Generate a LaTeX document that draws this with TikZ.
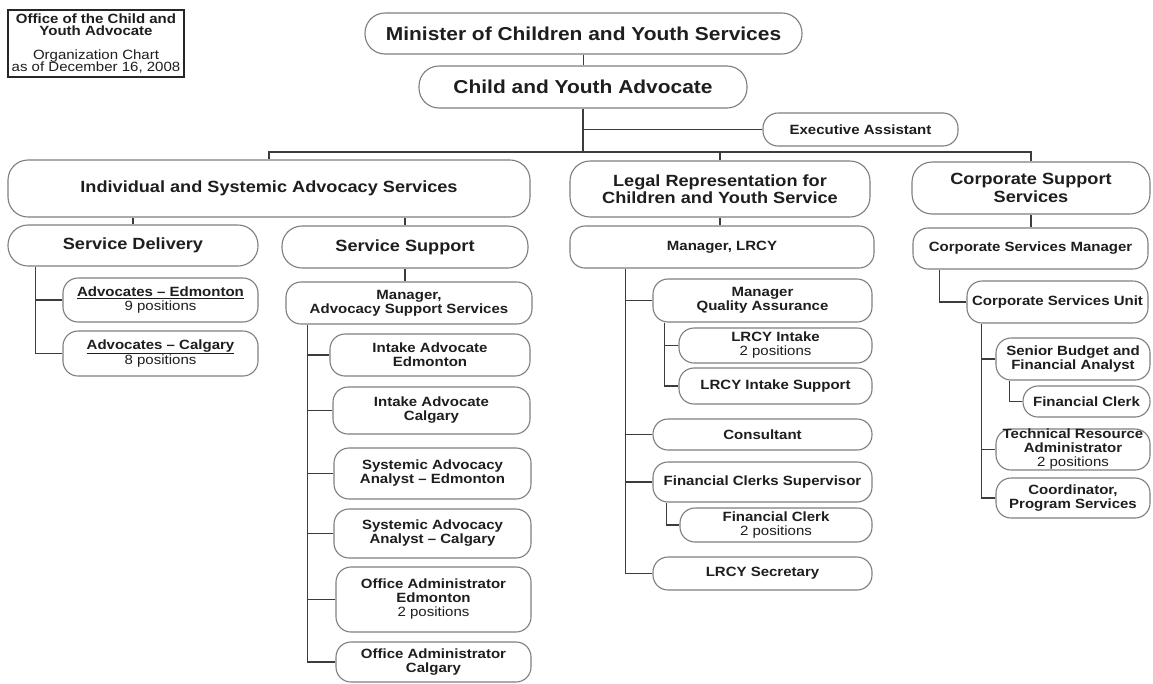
\documentclass[tikz,border=0pt]{standalone}
\usepackage{fontspec}
\setmainfont{Liberation Sans}[FakeStretch=1.12]
\definecolor{boxc}{HTML}{7E7E7E}
\definecolor{linec}{HTML}{3C3C3C}
\definecolor{txt}{HTML}{1E1E1E}
\begin{document}
\begin{tikzpicture}[x=1pt,y=-1pt,
  bx/.style={draw=boxc, line width=1.1pt, rounded corners=15pt, inner sep=0pt, align=center, text=txt},
  bxL/.style={bx, rounded corners=20pt},
  fa/.style={font=\bfseries\fontsize{18.7}{19.5}\selectfont},
  fb/.style={font=\bfseries\fontsize{16.2}{17.5}\selectfont},
  fc/.style={font=\bfseries\fontsize{13.4}{14}\selectfont},
  conn/.style={draw=linec, line width=1.4pt},
  infobox/.style={draw=black!85, line width=1.3pt, inner sep=0pt, align=center, text=txt, font=\fontsize{13.4}{12.5}\selectfont}]
\useasboundingbox (0,0) rectangle (1153,683);
\fill[white] (0,0) rectangle (1153,683);

% title box
\node[infobox, minimum width=176pt, minimum height=67pt] (info) at (96,43.5)
  {\textbf{Office of the Child and}\\\textbf{Youth Advocate}\\[11pt]Organization Chart\\as of December 16, 2008};

% top levels
\node[bxL, fa, minimum width=437pt, minimum height=41pt] (min) at (583.5,33.5) {Minister of Children and Youth Services};
\node[bxL, fa, minimum width=328pt, minimum height=42pt] (adv) at (583,87) {Child and Youth Advocate};
\node[bx, fc, minimum width=195pt, minimum height=33pt] (ea) at (860.5,129.5) {Executive Assistant};

\node[bxL, fb, minimum width=522pt, minimum height=57pt] (isas) at (269,188.5) {Individual and Systemic Advocacy Services};
\node[bxL, fb, minimum width=300pt, minimum height=56pt] (lrcy) at (720,189) {Legal Representation for\\Children and Youth Service};
\node[bxL, fb, minimum width=238pt, minimum height=52pt] (css) at (1031,188) {Corporate Support\\Services};

% left branch
\node[bxL, fb, minimum width=250pt, minimum height=41pt] (sd) at (133,245.5) {Service Delivery};
\node[bxL, fb, minimum width=246pt, minimum height=42pt] (ss) at (405,247) {Service Support};
\node[bx, fc, minimum width=195pt, minimum height=44pt] (adve) at (160.5,300) {\underline{Advocates -- Edmonton}\\{\mdseries 9 positions}};
\node[bx, fc, minimum width=195pt, minimum height=45pt] (advc) at (160.5,353.5) {\underline{Advocates -- Calgary}\\{\mdseries 8 positions}};

\node[bx, fc, minimum width=246pt, minimum height=42pt] (mass) at (409,303) {Manager,\\Advocacy Support Services};
\node[bx, fc, minimum width=200pt, minimum height=42pt] (iae) at (430,355) {Intake Advocate\\Edmonton};
\node[bx, fc, minimum width=197pt, minimum height=47pt] (iac) at (431.5,410.5) {Intake Advocate\\Calgary};
\node[bx, fc, minimum width=197pt, minimum height=51pt] (saae) at (432.5,473.5) {Systemic Advocacy\\Analyst -- Edmonton};
\node[bx, fc, minimum width=197pt, minimum height=49pt] (saac) at (432.5,533.5) {Systemic Advocacy\\Analyst -- Calgary};
\node[bx, fc, minimum width=195pt, minimum height=65pt] (oae) at (433.5,599.5) {Office Administrator\\Edmonton\\{\mdseries 2 positions}};
\node[bx, fc, minimum width=195pt, minimum height=40pt] (oac) at (433.5,662) {Office Administrator\\Calgary};

% middle branch
\node[bx, fc, minimum width=304pt, minimum height=42pt] (mlrcy) at (722,247) {Manager, LRCY};
\node[bx, fc, minimum width=219pt, minimum height=43pt] (mqa) at (762.5,300.5) {Manager\\Quality Assurance};
\node[bx, fc, minimum width=193pt, minimum height=35pt] (lint) at (775.5,345.5) {LRCY Intake\\{\mdseries 2 positions}};
\node[bx, fc, minimum width=193pt, minimum height=36pt] (lis) at (775.5,386) {LRCY Intake Support};
\node[bx, fc, minimum width=219pt, minimum height=31pt] (cons) at (762.5,434.5) {Consultant};
\node[bx, fc, minimum width=219pt, minimum height=40pt] (fcs) at (762.5,482) {Financial Clerks Supervisor};
\node[bx, fc, minimum width=192pt, minimum height=34pt] (fca) at (776,525) {Financial Clerk\\{\mdseries 2 positions}};
\node[bx, fc, minimum width=219pt, minimum height=33pt] (lsec) at (762.5,573.5) {LRCY Secretary};

% right branch
\node[bx, fc, minimum width=235pt, minimum height=41pt] (csm) at (1030.5,248.5) {Corporate Services Manager};
\node[bx, fc, minimum width=181pt, minimum height=42pt] (csu) at (1057.5,302) {Corporate Services Unit};
\node[bx, fc, minimum width=154pt, minimum height=42pt] (sbfa) at (1073,359) {Senior Budget and\\Financial Analyst};
\node[bx, fc, minimum width=127pt, minimum height=31pt] (fcb) at (1086.5,401.5) {Financial Clerk};
\node[bx, fc, minimum width=154pt, minimum height=41pt] (tra) at (1073,449.5) {Technical Resource\\Administrator\\{\mdseries 2 positions}};
\node[bx, fc, minimum width=154pt, minimum height=40pt] (coord) at (1073,498) {Coordinator,\\Program Services};

% connectors: top
\coordinate (bus) at (583,152);
\draw[conn] (min.south) -- (min.south |- adv.north);
\draw[conn] (adv.south) -- (bus);
\draw[conn] (adv.south |- ea.west) -- (ea.west);
\draw[conn] (isas.north) |- (bus) -| (css.north);
\draw[conn] (lrcy.north) -- (lrcy.north |- bus);

% left
\draw[conn] (sd.north) -- (sd.north |- isas.south);
\draw[conn] (ss.north) -- (ss.north |- isas.south);
\coordinate (sdt) at ([xshift=28pt]sd.south west);
\draw[conn] (sdt) |- (advc.west);
\draw[conn] (sdt |- adve.west) -- (adve.west);
\draw[conn] (ss.south) -- (ss.south |- mass.north);
\coordinate (mat) at ([xshift=22pt]mass.south west);
\draw[conn] (mat) |- (oac.west);
\draw[conn] (mat |- iae.west) -- (iae.west);
\draw[conn] (mat |- iac.west) -- (iac.west);
\draw[conn] (mat |- saae.west) -- (saae.west);
\draw[conn] (mat |- saac.west) -- (saac.west);
\draw[conn] (mat |- oae.west) -- (oae.west);

% middle
\draw[conn] (lrcy.south) -- (lrcy.south |- mlrcy.north);
\coordinate (mlt) at ([xshift=56pt]mlrcy.south west);
\draw[conn] (mlt) |- (lsec.west);
\draw[conn] (mlt |- mqa.west) -- (mqa.west);
\draw[conn] (mlt |- cons.west) -- (cons.west);
\draw[conn] (mlt |- fcs.west) -- (fcs.west);
\coordinate (mqt) at ([xshift=12pt]mqa.south west);
\draw[conn] (mqt) |- (lis.west);
\draw[conn] (mqt |- lint.west) -- (lint.west);
\coordinate (fct) at ([xshift=14pt]fcs.south west);
\draw[conn] (fct) |- (fca.west);

% right
\draw[conn] (css.south) -- (css.south |- csm.north);
\coordinate (cmt) at ([xshift=27pt]csm.south west);
\draw[conn] (cmt) |- (csu.west);
\coordinate (cut) at ([xshift=15pt]csu.south west);
\draw[conn] (cut) |- (coord.west);
\draw[conn] (cut |- sbfa.west) -- (sbfa.west);
\draw[conn] (cut |- tra.west) -- (tra.west);
\coordinate (sbt) at ([xshift=14pt]sbfa.south west);
\draw[conn] (sbt) |- (fcb.west);
\end{tikzpicture}
\end{document}
